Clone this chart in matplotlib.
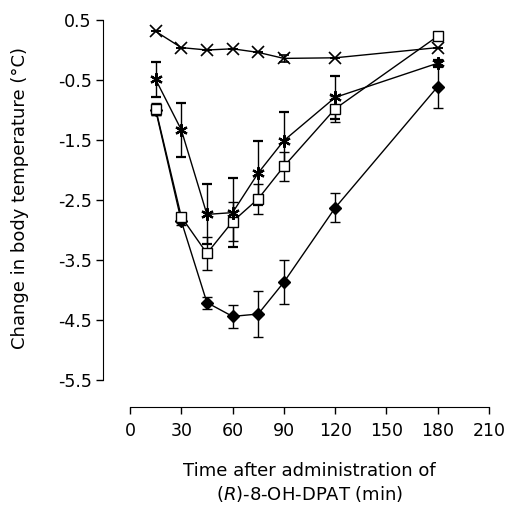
"""Body temperature change after (R)-8-OH-DPAT."""

from matplotlib import pyplot as plt

plt.rcParams['font.family'] = ['DejaVu Sans']
plt.rcParams['axes.unicode_minus'] = False

time_min = [15, 30, 45, 60, 75, 90, 120, 180]

control = [0.31, 0.04, 0.0, 0.02, -0.04, -0.14, -0.13, 0.04]
control_err = [0, 0, 0, 0, 0, 0.06, 0, 0]

star = [-0.49, -1.33, -2.74, -2.71, -2.05, -1.51, -0.79, -0.22]
star_err = [0.29, 0.45, 0.5, 0.58, 0.54, 0.47, 0.36, 0.06]

square = [-0.98, -2.78, -3.39, -2.86, -2.48, -1.94, -0.98, 0.23]
square_err = [0.1, 0.07, 0.28, 0.33, 0.25, 0.24, 0.22, 0]

diamond = [-1.0, -2.85, -4.21, -4.44, -4.40, -3.87, -2.63, -0.61]
diamond_err = [0.08, 0.06, 0.1, 0.19, 0.39, 0.37, 0.24, 0.36]

y_ticks = [0.5, -0.5, -1.5, -2.5, -3.5, -4.5, -5.5]
x_ticks = [0, 30, 60, 90, 120, 150, 180, 210]


def main():
    """Draw the chart."""
    fig = plt.figure(figsize=(5.10, 5.05), dpi=100)
    ax = fig.add_axes([130 / 510, 1 - 407 / 505, 359 / 510, 387 / 505])

    style = dict(color='black', lw=1.0, capsize=3.3, elinewidth=1.0,
                 capthick=1.0)
    ax.errorbar(time_min, diamond, yerr=diamond_err, marker='D', ms=6,
                mfc='black', mec='black', **style)
    ax.errorbar(time_min, square, yerr=square_err, marker='s', ms=7,
                mfc='white', mec='black', mew=1.0, **style)
    ax.errorbar(time_min, star, yerr=star_err, marker=(6, 2, 0), ms=9,
                mec='black', mew=1.6, **style)
    ax.errorbar(time_min, control, yerr=control_err, marker='x', ms=8,
                mec='black', mew=1.2, **style)

    ax.set_xlim(0, 210)
    ax.set_ylim(0.5 - 387 / 60, 0.5)
    ax.spines['top'].set_visible(False)
    ax.spines['right'].set_visible(False)
    ax.spines['left'].set_position(('outward', 19.7))
    ax.spines['left'].set_bounds(-5.5, 0.5)
    ax.set_xticks(x_ticks)
    ax.set_yticks(y_ticks)
    ax.set_yticklabels([f'{v:.1f}' for v in y_ticks])
    ax.tick_params(labelsize=12.5, length=5, width=1)
    ax.tick_params(axis='y', pad=3)
    ax.tick_params(axis='x', pad=6)
    ax.set_ylabel('Change in body temperature (°C)', fontsize=13)
    ax.yaxis.set_label_coords(-0.281, 0.54)
    ax.set_xlabel('Time after administration of\n'
                  '($\\mathit{R}$)-8-OH-DPAT (min)',
                  fontsize=13, linespacing=1.25)
    ax.xaxis.set_label_coords(0.5, -0.142)

    fig.savefig('out.png', dpi=100)


if __name__ == '__main__':
    main()
